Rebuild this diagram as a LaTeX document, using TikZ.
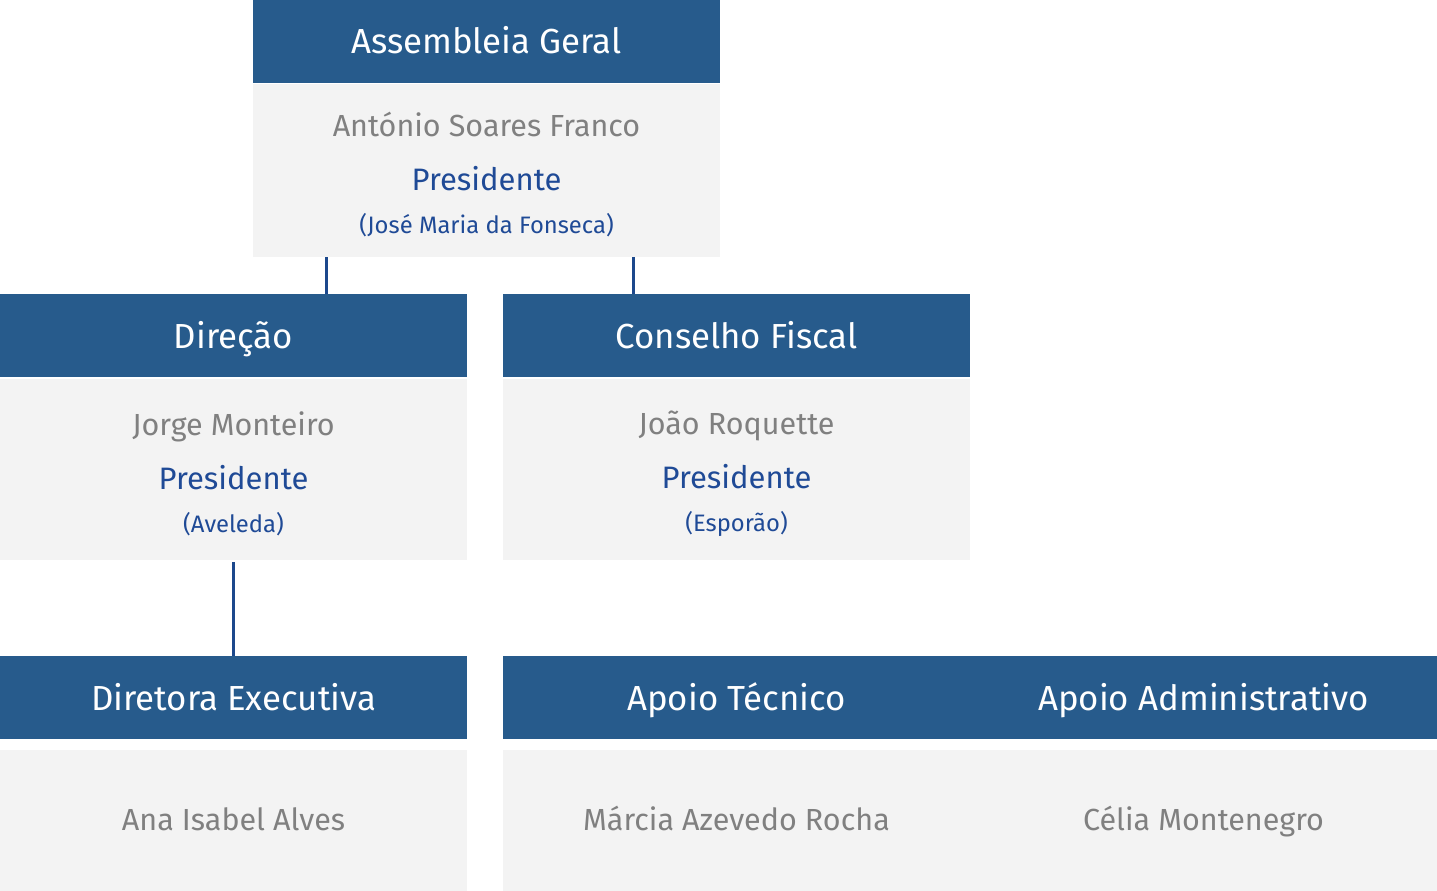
\documentclass[tikz,border=0pt]{standalone}
\usepackage{fontspec}
\setmainfont{Fira Sans}
\definecolor{hdr}{RGB}{39,91,140}
\definecolor{bodybg}{RGB}{243,243,243}
\definecolor{nametxt}{RGB}{128,128,128}
\definecolor{roletxt}{RGB}{31,74,150}
\definecolor{linkc}{RGB}{28,72,140}
\tikzset{
  nametext/.style={text=nametxt, font=\fontsize{30.5}{34}\selectfont, inner sep=0pt, anchor=base},
  roletext/.style={text=roletxt, font=\fontsize{31}{34}\selectfont, inner sep=0pt, anchor=base},
  subtext/.style={text=roletxt, font=\fontsize{23.8}{27}\selectfont, inner sep=0pt, anchor=base},
  hdrtext/.style={text=white, font=\fontsize{34.8}{38}\selectfont, inner sep=0pt, anchor=base},
  link/.style={draw=linkc, line width=3pt}
}
\begin{document}
\begin{tikzpicture}[x=1pt,y=-1pt]
\useasboundingbox (0,0) rectangle (1437,891);
% boxes
\fill[hdr] (253,0) rectangle (720,83);
\fill[bodybg] (253,84) rectangle (720,257);
\fill[hdr] (0,294) rectangle (467,377);
\fill[bodybg] (0,379) rectangle (467,560);
\fill[hdr] (503,294) rectangle (970,377);
\fill[bodybg] (503,379) rectangle (970,560);
\fill[hdr] (0,656) rectangle (467,739);
\fill[bodybg] (0,750) rectangle (467,891);
\fill[hdr] (503,656) rectangle (1437,739);
\fill[bodybg] (503,750) rectangle (1437,891);
% texts
\node[hdrtext] (ag) at (486.5,54) {Assembleia Geral};
\node[nametext] (agn) at (486.5,136) {António Soares Franco};
\node[roletext] (agr) at (486.5,190) {Presidente};
\node[subtext] (ags) at (486.5,233) {(José Maria da Fonseca)};
\node[hdrtext] (dir) at (233.5,348) {Direção};
\node[nametext] (dirn) at (233.5,435) {Jorge Monteiro};
\node[roletext] (dirr) at (233.5,489) {Presidente};
\node[subtext] (dirs) at (233.5,532) {(Aveleda)};
\node[hdrtext] (cf) at (736.5,348) {Conselho Fiscal};
\node[nametext] (cfn) at (736.5,434) {João Roquette};
\node[roletext] (cfr) at (736.5,488) {Presidente};
\node[subtext] (cfs) at (736.5,531) {(Esporão)};
\node[hdrtext] (de) at (233.5,710) {Diretora Executiva};
\node[nametext] (den) at (233.5,830) {Ana Isabel Alves};
\node[hdrtext] (at) at (736.5,710) {Apoio Técnico};
\node[nametext] (atn) at (736.5,830) {Márcia Azevedo Rocha};
\node[hdrtext] (aa) at (1203.5,710) {Apoio Administrativo};
\node[nametext] (aan) at (1203.5,830) {Célia Montenegro};
% anchors for links
\coordinate (agbl) at (326,257);
\coordinate (dirt) at (326,294);
\coordinate (agbr) at (633,257);
\coordinate (cft) at (633,294);
\coordinate (dirb) at (233,562);
\coordinate (det) at (233,656);
\draw[link] (agbl) -- (dirt);
\draw[link] (agbr) -- (cft);
\draw[link] (dirb) -- (det);
\end{tikzpicture}
\end{document}
